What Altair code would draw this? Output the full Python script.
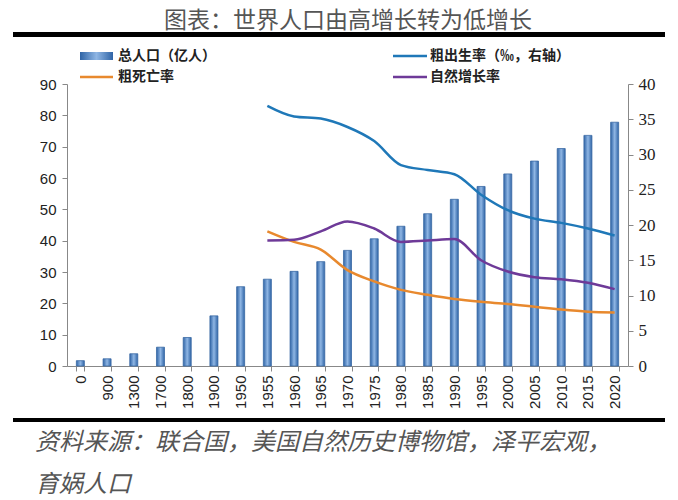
import altair as alt
import pandas as pd

years = ["0", "900", "1300", "1700", "1800", "1900", "1950", "1955", "1960", "1965",
         "1970", "1975", "1980", "1985", "1990", "1995", "2000", "2005", "2010", "2015", "2020"]
population = [1.7, 2.3, 3.9, 6.0, 9.1, 16.0, 25.3, 27.7, 30.2, 33.3,
              36.9, 40.6, 44.6, 48.6, 53.2, 57.3, 61.3, 65.4, 69.4, 73.6, 77.8]

rate_years = ["1955", "1960", "1965", "1970", "1975", "1980", "1985", "1990",
              "1995", "2000", "2005", "2010", "2015", "2020"]
birth_rate = [36.9, 35.4, 35.1, 33.9, 31.9, 28.5, 27.8, 27.2, 24.3, 22.1, 20.9, 20.3, 19.5, 18.5]
death_rate = [19.1, 17.6, 16.5, 13.6, 12.0, 10.8, 10.1, 9.5, 9.1, 8.8, 8.4, 8.0, 7.7, 7.6]
natural_rate = [17.8, 17.9, 19.1, 20.5, 19.5, 17.6, 17.8, 18.0, 15.0, 13.4, 12.6, 12.3, 11.8, 10.9]

series_names = ["粗出生率（‰，右轴）", "粗死亡率", "自然增长率"]
series_colors = ["#1f78b8", "#e8892e", "#6e3a98"]

title_text = "图表：世界人口由高增长转为低增长"
source_line1 = "资料来源：联合国，美国自然历史博物馆，泽平宏观，"
source_line2 = "育娲人口"

bar_df = pd.DataFrame({"year": years, "pop": population})
rows = []
for name, vals in zip(series_names, [birth_rate, death_rate, natural_rate]):
    for y, v in zip(rate_years, vals):
        rows.append({"year": y, "series": name, "rate": v})
line_df = pd.DataFrame(rows)

x_enc = alt.X("year:N", sort=years, scale=alt.Scale(paddingInner=0.7, paddingOuter=0.35),
              axis=alt.Axis(title=None, labelAngle=-90, labelFont="Liberation Sans", labelFontSize=15,
                            labelColor="#222", labelBaseline="middle", labelAlign="right",
                            tickBand="extent", tickSize=5, tickColor="#888", domainColor="#888",
                            labelPadding=4))

grad = alt.LinearGradient(gradient="linear", x1=0, x2=1, y1=0, y2=0,
                          stops=[alt.GradientStop(color="#2f64a6", offset=0),
                                 alt.GradientStop(color="#8fb6e4", offset=0.5),
                                 alt.GradientStop(color="#2f64a6", offset=1)])

bars = alt.Chart(bar_df).mark_bar(color=grad, stroke="#3a6aa5", strokeWidth=0.8).encode(
    x=x_enc,
    y=alt.Y("pop:Q", scale=alt.Scale(domain=[0, 90]),
            axis=alt.Axis(title=None, values=list(range(0, 91, 10)), orient="left",
                          labelFont="Liberation Sans", labelFontSize=15, labelColor="#222",
                          tickColor="#888", domainColor="#888", tickSize=5, grid=False, labelPadding=6)),
)

lines = alt.Chart(line_df).mark_line(strokeWidth=2.5, interpolate="monotone").encode(
    x=alt.X("year:N", sort=years),
    y=alt.Y("rate:Q", scale=alt.Scale(domain=[0, 40]),
            axis=alt.Axis(title=None, values=list(range(0, 41, 5)), orient="right",
                          labelFont="Liberation Serif", labelFontSize=17, labelColor="#222",
                          tickColor="#888", domainColor="#888", tickSize=5, grid=False, labelPadding=5)),
    color=alt.Color("series:N", scale=alt.Scale(domain=series_names, range=series_colors), legend=None),
    detail="series:N",
)

one = alt.Data(values=[{}])

def txt(s, x, y, size, **kw):
    return alt.Chart(one).mark_text(text=s, fontSize=size, **kw).encode(
        x=alt.value(x), y=alt.value(y))

def rule(x1, x2, y, color, width):
    return alt.Chart(one).mark_rule(color=color, strokeWidth=width).encode(
        x=alt.value(x1), x2=alt.value(x2), y=alt.value(y))

r1, r2 = -28, -7
legend_rect = alt.Chart(one).mark_rect(color=grad).encode(
    x=alt.value(13), x2=alt.value(46), y=alt.value(r1 - 4), y2=alt.value(r1 + 4))

cjk = "Noto Sans CJK SC"
annotations = [
    txt(title_text, 281, -56, 23, font=cjk, color="#555", align="center", baseline="alphabetic"),
    rule(-54, 598, -49.5, "#000", 5),
    rule(-54, 598, 336, "#000", 4),
    txt(source_line1, -32, 359, 24, font=cjk, color="#555", fontStyle="italic", align="left", baseline="middle"),
    txt(source_line2, -32, 401, 24, font=cjk, color="#555", fontStyle="italic", align="left", baseline="middle"),
    legend_rect,
    txt("总人口（亿人）", 51, r1, 14, font=cjk, fontWeight="bold", color="#222", align="left", baseline="middle"),
    rule(13, 46, r2, series_colors[1], 2.5),
    txt("粗死亡率", 51, r2, 14, font=cjk, fontWeight="bold", color="#222", align="left", baseline="middle"),
    rule(326, 360, r1, series_colors[0], 2.5),
    txt("粗出生率（‰，右轴）", 363, r1, 14, font=cjk, fontWeight="bold", color="#222", align="left", baseline="middle"),
    rule(326, 360, r2, series_colors[2], 2.5),
    txt("自然增长率", 363, r2, 14, font=cjk, fontWeight="bold", color="#222", align="left", baseline="middle"),
]

chart = alt.layer(bars, lines, *annotations).resolve_scale(y="independent").properties(
    width=561, height=282,
    autosize=alt.AutoSizeParams(type="none"),
    padding={"left": 67, "top": 84, "right": 50, "bottom": 134},
    background="white",
).configure_view(stroke=None)

chart.save("out.html", embed_options={"renderer": "svg", "actions": False})
